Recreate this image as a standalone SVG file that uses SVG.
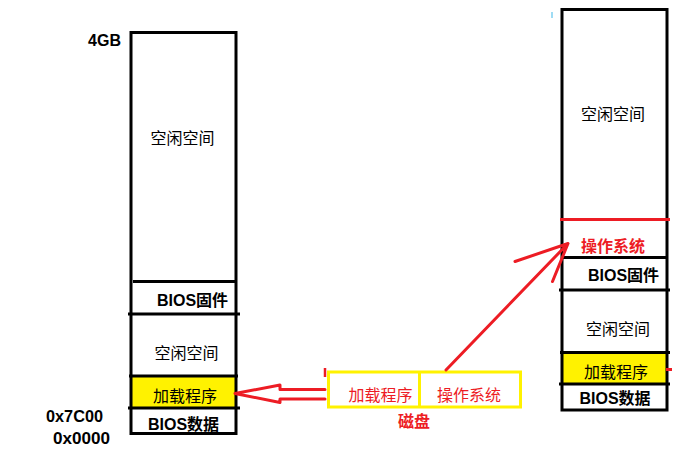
<svg xmlns="http://www.w3.org/2000/svg" width="683" height="459" viewBox="0 0 683 459">
<style>
.bx{fill:none;stroke:#000;stroke-width:3}
.ln{stroke:#000;stroke-width:3}
.yl{fill:#FFF200}
.t{font-family:"Liberation Sans","Noto Sans CJK SC",sans-serif;font-size:16px;fill:#000;text-anchor:middle}
.b{font-weight:bold}
.r{fill:#ED1C24}
.lb{font-family:"Liberation Sans","Noto Sans CJK SC",sans-serif;font-size:16px;font-weight:bold;fill:#000}
.rd{fill:none;stroke:#ED1C24;stroke-width:3;stroke-linecap:round;stroke-linejoin:round}
</style>
<rect width="683" height="459" fill="#fff"/>
<g id="left-stack">
<rect class="yl" x="131" y="376" width="105" height="32"/>
<rect class="bx" x="131" y="32.5" width="105" height="401"/>
<line class="ln" x1="133" y1="281.5" x2="237" y2="281.5"/>
<line class="ln" x1="128" y1="314" x2="240" y2="314"/>
<line class="ln" x1="129" y1="376" x2="238" y2="376"/>
<line class="ln" x1="128" y1="408" x2="240" y2="408"/>
<text class="t" x="182.5" y="144">空闲空间</text>
<text class="t b" x="192.5" y="306">BIOS固件</text>
<text class="t" x="186.5" y="359">空闲空间</text>
<text class="t" x="185" y="401.5">加载程序</text>
<text class="t b" x="183.5" y="430">BIOS数据</text>
<text class="lb" x="121" y="45.5" text-anchor="end">4GB</text>
<text class="lb" x="46" y="422" textLength="57" lengthAdjust="spacingAndGlyphs">0x7C00</text>
<text class="lb" x="53" y="443.5" textLength="57" lengthAdjust="spacingAndGlyphs">0x0000</text>
</g>
<g id="right-stack">
<rect class="yl" x="562" y="352" width="105" height="32"/>
<rect class="bx" x="562" y="9.5" width="105" height="400.5"/>
<line x1="560" y1="219.5" x2="670" y2="219.5" stroke="#ED1C24" stroke-width="3"/>
<line class="ln" x1="561" y1="257.5" x2="668" y2="257.5"/>
<line class="ln" x1="559" y1="290" x2="670" y2="290"/>
<line class="ln" x1="560" y1="352.5" x2="670" y2="352.5"/>
<line class="ln" x1="559" y1="384" x2="670" y2="384"/>
<text class="t" x="613" y="120">空闲空间</text>
<text class="t b r" x="613" y="252">操作系统</text>
<text class="t b" x="623.5" y="281">BIOS固件</text>
<text class="t" x="618" y="335">空闲空间</text>
<text class="t" x="616" y="378">加载程序</text>
<text class="t b" x="615" y="404">BIOS数据</text>
<line x1="666" y1="369.5" x2="672" y2="369.5" stroke="#ED1C24" stroke-width="3"/>
<line x1="552" y1="12" x2="552" y2="18" stroke="#7fd0f0" stroke-width="1.5"/>
</g>
<g id="disk">
<rect x="328.5" y="372" width="192" height="35" fill="none" stroke="#FFF200" stroke-width="3"/>
<line x1="419.5" y1="372" x2="419.5" y2="407" stroke="#FFF200" stroke-width="3"/>
<text class="t r" x="380.5" y="400.5">加载程序</text>
<text class="t r" x="469" y="400.5">操作系统</text>
<text class="t b r" x="414" y="426.5">磁盘</text>
<line x1="325" y1="368" x2="325" y2="377" stroke="#ED1C24" stroke-width="2.5"/>
</g>
<g id="connectors">
<path class="rd" d="M325,389.5 H280 V385 L235,393.5 L280,402.5 V399 H325"/>
<path class="rd" d="M446,370 L568,243.5 M515,261.5 L568,243.5 L552.5,281.5"/>
</g>
</svg>
